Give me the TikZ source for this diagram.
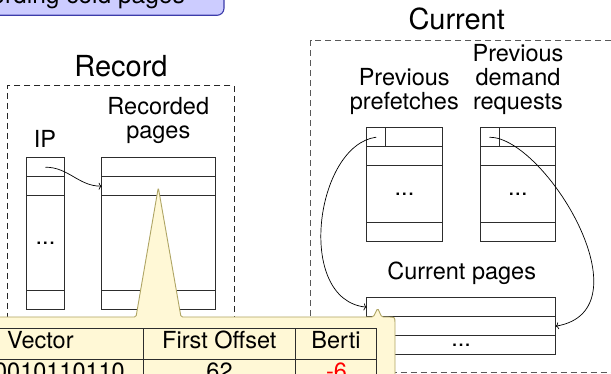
\documentclass[tikz,border=0pt]{standalone}
\usepackage{fontspec}
\setmainfont{TeX Gyre Heros}
\usetikzlibrary{arrows.meta}

\definecolor{notefill}{RGB}{255,248,214}
\definecolor{noteedge}{RGB}{175,165,100}
\definecolor{barfill}{RGB}{204,204,255}
\definecolor{baredge}{RGB}{60,60,170}
\definecolor{gridline}{RGB}{45,45,45}

\newcommand\lblfont{\fontsize{23.5}{24}\selectfont}
\newcommand\headfont{\fontsize{29}{32}\selectfont}

\begin{document}
\begin{tikzpicture}[x=1pt,y=-1pt,
  cellbox/.style={draw=gridline, line width=0.9pt, inner sep=0pt, outer sep=0pt, font=\lblfont},
  region/.style={draw=black!85, line width=1pt, dash pattern=on 6pt off 4pt, inner sep=0pt, outer sep=0pt},
  txt/.style={anchor=base, inner sep=0pt, font=\lblfont},
  head/.style={anchor=base, inner sep=0pt, font=\headfont},
  conn/.style={line width=0.7pt, -{To[length=3pt,width=7pt]}},
  tcell/.style={draw=gridline, line width=0.9pt, inner sep=0pt, outer sep=0pt}]

\useasboundingbox (0,0) rectangle (611,374);
\clip (0,0) rectangle (611,374);

% banner at the top
\node[draw=baredge, fill=barfill, line width=1.1pt, rounded corners=7pt,
      minimum width=324pt, minimum height=45.3pt, inner sep=0pt] (banner) at (62,-7.35) {};
\node[anchor=base east, inner sep=0pt, font=\fontsize{24.5}{26}\selectfont] (bannertxt) at (185,3.5) {Recording cold pages};

% the two regions
\node[region, minimum width=227pt, minimum height=259pt] (rec) at (120.8,215.5) {};
\node[region, draw=black!65, minimum width=339.3pt, minimum height=332pt] (cur) at (480.35,206.7) {};

\node[head] (recT) at (121,76.7) {Record};
\node[head] (curT) at (456.7,30) {Current};

% Record: IP table
\node[txt] (ipT) at (45,148) {IP};
\node[cellbox, minimum width=37.6pt, minimum height=19pt]   (ip1) at (45.5,167.2) {};
\node[cellbox, minimum width=37.6pt, minimum height=19pt]   (ip2) at (45.5,186.2) {};
\node[cellbox, minimum width=37.6pt, minimum height=94.3pt] (ipm) at (45.5,242.85) {...};
\node[cellbox, minimum width=37.6pt, minimum height=19.3pt] (ipn) at (45.5,299.65) {};

% Record: recorded pages table
\node[txt] (rpT1) at (158.3,115) {Recorded};
\node[txt] (rpT2) at (158.3,139) {pages};
\node[cellbox, minimum width=113.3pt, minimum height=19pt]   (rp1) at (158.35,167.2) {};
\node[cellbox, minimum width=113.3pt, minimum height=19pt]   (rp2) at (158.35,186.2) {};
\node[cellbox, minimum width=113.3pt, minimum height=94.3pt] (rpm) at (158.35,242.85) {};
\node[cellbox, minimum width=113.3pt, minimum height=19.3pt] (rpn) at (158.35,299.65) {};

% Current: previous prefetches
\node[txt] (pfT1) at (404.2,86) {Previous};
\node[txt] (pfT2) at (404.3,110) {prefetches};
\node[cellbox, minimum width=75.6pt, minimum height=19pt]   (pf1) at (404.5,137.2) {};
\node[cellbox, minimum width=19pt,   minimum height=19pt]   (pfa) at (376.2,137.2) {};
\node[cellbox, minimum width=75.6pt, minimum height=19pt]   (pf2) at (404.5,156.2) {};
\node[cellbox, minimum width=75.6pt, minimum height=56.6pt] (pfm) at (404.5,194) {...};
\node[cellbox, minimum width=75.6pt, minimum height=18.7pt] (pfn) at (404.5,231.65) {};

% Current: previous demand requests
\node[txt] (pdT1) at (518,61.7) {Previous};
\node[txt] (pdT2) at (518,86) {demand};
\node[txt] (pdT3) at (518,110) {requests};
\node[cellbox, minimum width=75.7pt, minimum height=19pt]   (pd1) at (517.85,137.2) {};
\node[cellbox, minimum width=19pt,   minimum height=19pt]   (pda) at (489.5,137.2) {};
\node[cellbox, minimum width=75.7pt, minimum height=19pt]   (pd2) at (517.85,156.2) {};
\node[cellbox, minimum width=75.7pt, minimum height=56.6pt] (pdm) at (517.85,194) {...};
\node[cellbox, minimum width=75.7pt, minimum height=18.7pt] (pdn) at (517.85,231.65) {};

% Current: current pages
\node[txt] (cpT) at (461.7,280) {Current pages};
\node[cellbox, minimum width=189pt, minimum height=19pt]   (cp1) at (461.2,307.2) {};
\node[cellbox, minimum width=189pt, minimum height=19pt]   (cp2) at (461.2,326.2) {};
\node[cellbox, minimum width=189pt, minimum height=18.6pt] (cp3) at (461.2,345) {...};

% links
\draw[conn] (ip1.center) to[out=0,in=180] (rp2.west);
\draw[conn] (pfa.center) .. controls +(-61,8) and +(-72,-7) .. (cp1.west);
\draw[conn] (pda.center) .. controls +(55.5,0) and +(94.3,-16) .. (cp2.east);

% note bubble with two pointers
\path[fill=notefill, draw=noteedge, line width=0.9pt, rounded corners=1.5pt]
  (-5,317) -- (136,317) -- (158.3,187.5) -- (181,317) -- (373.3,317)
  -- (377.7,308.3) -- (381.7,317) -- (387,317) .. controls (395,317) .. (395,325)
  -- (395,390) -- (-5,390) -- cycle;

% table inside the note
\node[tcell, minimum width=203.3pt, minimum height=31pt]   (hv) at (41.65,343.8) {};
\node[tcell, minimum width=152.4pt, minimum height=31pt]   (hf) at (219.5,343.8) {};
\node[tcell, minimum width=81pt,    minimum height=31pt]   (hb) at (336.2,343.8) {};
\node[tcell, minimum width=203.3pt, minimum height=30.7pt] (dv) at (41.65,374.65) {};
\node[tcell, minimum width=152.4pt, minimum height=30.7pt] (df) at (219.5,374.65) {};
\node[tcell, minimum width=81pt,    minimum height=30.7pt] (db) at (336.2,374.65) {};

\node[txt, anchor=base west] (hvT) at (7,348.3) {Vector};
\node[txt] (hfT) at (219.3,348.3) {First Offset};
\node[txt] (hbT) at (336,348.3) {Berti};
\node[txt, anchor=base east] (dvT) at (125,379) {0010110110};
\node[txt] (dfT) at (219.5,379) {62};
\node[txt, text=red] (dbT) at (336.5,379) {-6};

\end{tikzpicture}
\end{document}
